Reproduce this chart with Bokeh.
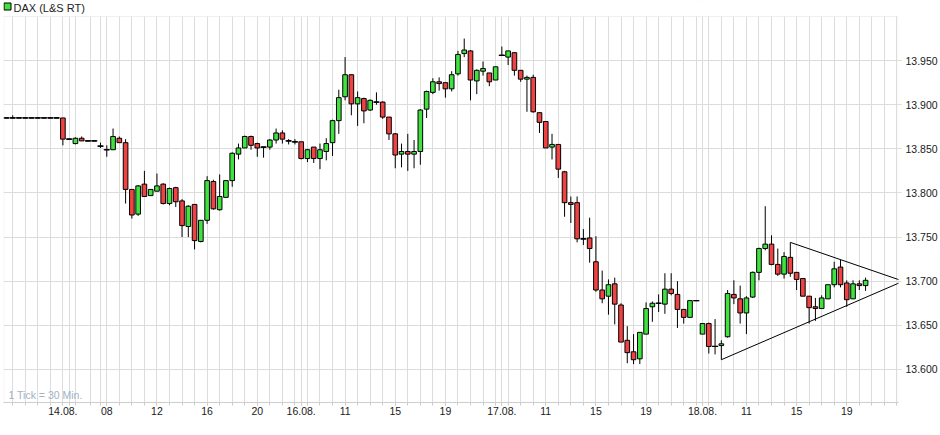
from bokeh.plotting import figure
from bokeh.models import FixedTicker, Label, BoxAnnotation, ColumnDataSource, Range1d
from bokeh.embed import file_html
from bokeh.resources import INLINE

# ---------------- data (30-minute candles, slot index on a trading-time axis) ----------------
slots = list(range(-9, 129))

opens = [13885, 13885, 13885, 13885, 13885, 13885, 13885, 13885, 13885,
         13885, 13861, 13856, 13862, 13859, 13859, 13853, 13849, 13849, 13862,
         13857, 13804, 13776, 13810, 13797, 13802, 13810, 13788, 13806, 13791,
         13762, 13787, 13745, 13769, 13813, 13781, 13795, 13814, 13844, 13851,
         13864, 13856, 13852, 13852, 13860, 13868, 13859, 13858, 13858, 13839,
         13852, 13839, 13847, 13857, 13882, 13909, 13934, 13901, 13907, 13894,
         13903, 13903, 13886, 13867, 13844, 13847, 13844, 13847, 13895, 13914,
         13926, 13925, 13918, 13935, 13958, 13961, 13927, 13938, 13936, 13928,
         13956, 13954, 13959, 13939, 13929, 13931, 13891, 13881, 13852, 13855,
         13824, 13789, 13789, 13748, 13749, 13722, 13690, 13683, 13697, 13673,
         13633, 13620, 13612, 13640, 13671, 13675, 13674, 13691, 13685, 13668,
         13659, 13678, 13640, 13652, 13626, 13627, 13637, 13685, 13680, 13664,
         13682, 13710, 13737, 13742, 13719, 13708, 13727, 13710, 13703, 13683,
         13671, 13669, 13680, 13696, 13716, 13698, 13680, 13697, 13695]

highs = [13885, 13888, 13885, 13885, 13885, 13885, 13885, 13885, 13885,
         13885, 13861, 13863, 13864, 13859, 13859, 13857, 13854, 13873, 13864,
         13861, 13804, 13809, 13825, 13804, 13822, 13811, 13806, 13807, 13793,
         13786, 13787, 13769, 13819, 13815, 13821, 13814, 13846, 13856, 13865,
         13865, 13857, 13852, 13861, 13873, 13871, 13861, 13861, 13858, 13850,
         13852, 13856, 13862, 13883, 13917, 13954, 13934, 13915, 13908, 13906,
         13914, 13904, 13886, 13868, 13856, 13867, 13860, 13895, 13916, 13930,
         13931, 13925, 13938, 13961, 13975, 13962, 13940, 13949, 13936, 13943,
         13966, 13961, 13959, 13939, 13933, 13934, 13891, 13881, 13867, 13855,
         13825, 13796, 13796, 13759, 13772, 13751, 13712, 13702, 13704, 13675,
         13649, 13640, 13642, 13676, 13677, 13685, 13709, 13709, 13700, 13668,
         13678, 13678, 13652, 13653, 13657, 13633, 13690, 13701, 13695, 13683,
         13711, 13738, 13785, 13752, 13737, 13733, 13744, 13710, 13703, 13683,
         13681, 13684, 13696, 13722, 13724, 13701, 13701, 13701, 13704]

lows = [13885, 13885, 13885, 13885, 13885, 13885, 13885, 13885, 13885,
        13854, 13861, 13855, 13859, 13859, 13859, 13851, 13841, 13849, 13857,
        13788, 13771, 13774, 13796, 13797, 13802, 13787, 13786, 13784, 13750,
        13750, 13736, 13744, 13765, 13781, 13780, 13795, 13807, 13838, 13851,
        13849, 13841, 13840, 13849, 13856, 13856, 13855, 13855, 13838, 13835,
        13834, 13827, 13837, 13842, 13867, 13905, 13888, 13876, 13879, 13893,
        13900, 13884, 13860, 13828, 13829, 13825, 13828, 13832, 13885, 13912,
        13916, 13908, 13915, 13933, 13954, 13905, 13912, 13933, 13921, 13928,
        13956, 13945, 13933, 13926, 13892, 13891, 13868, 13851, 13838, 13817,
        13773, 13766, 13744, 13741, 13721, 13688, 13675, 13662, 13651, 13631,
        13607, 13606, 13606, 13640, 13654, 13665, 13663, 13684, 13647, 13652,
        13659, 13678, 13640, 13618, 13617, 13611, 13636, 13674, 13652, 13640,
        13681, 13701, 13735, 13718, 13706, 13703, 13705, 13690, 13683, 13652,
        13655, 13669, 13680, 13693, 13693, 13671, 13680, 13690, 13689]

closes = [13885, 13885, 13885, 13885, 13885, 13885, 13885, 13885, 13885,
          13861, 13861, 13862, 13859, 13859, 13859, 13853, 13849, 13864, 13857,
          13804, 13775, 13808, 13796, 13804, 13808, 13788, 13805, 13790, 13763,
          13785, 13746, 13769, 13814, 13782, 13796, 13814, 13845, 13851, 13864,
          13854, 13851, 13852, 13860, 13868, 13861, 13859, 13858, 13839, 13849,
          13839, 13849, 13856, 13882, 13908, 13934, 13901, 13908, 13893, 13905,
          13903, 13886, 13867, 13843, 13847, 13844, 13847, 13894, 13915, 13926,
          13924, 13918, 13934, 13957, 13962, 13928, 13939, 13941, 13926, 13943,
          13956, 13961, 13939, 13929, 13931, 13892, 13880, 13851, 13855, 13827,
          13789, 13787, 13748, 13748, 13737, 13690, 13680, 13696, 13674, 13631,
          13619, 13611, 13642, 13669, 13675, 13675, 13691, 13686, 13668, 13659,
          13678, 13678, 13652, 13626, 13626, 13629, 13686, 13681, 13664, 13681,
          13710, 13737, 13742, 13719, 13708, 13728, 13709, 13702, 13683, 13670,
          13669, 13681, 13696, 13714, 13696, 13679, 13697, 13695, 13701]

# triangle drawn on the chart (slot, price)
tri_upper_x = [116, 134]
tri_upper_y = [13744, 13700]
tri_lower_x = [105, 134]
tri_lower_y = [13611, 13700]

# axis ticks
x_tick_slots = [0, 7, 15, 23, 31, 38, 45, 53, 61, 70, 77, 85, 93, 102, 109, 117, 125]
x_tick_labels = ["14.08.", "08", "12", "16", "20", "16.08.", "11", "15", "19",
                 "17.08.", "11", "15", "19", "18.08.", "11", "15", "19"]
day_start_slots = [6, 38, 70, 102]
pre_grid_slots = [-8, -6, -4, -2, 0, 1, 2, 4.4]
y_ticks = [13600, 13650, 13700, 13750, 13800, 13850, 13900, 13950]
y_tick_labels = ["13.600", "13.650", "13.700", "13.750", "13.800", "13.850", "13.900", "13.950"]
series_name = "DAX (L&S RT)"
price_top = 14000       # upper edge of the price area
price_bottom = 13562.5  # lower edge of the price area

# ---------------- build ----------------
GREEN = "#3fe23f"
RED = "#ef4242"
GRID = "#dcdcdc"
FONT = "Liberation Sans"

FRAME_W = 895
FRAME_H = 402           # frame spans the header strip too; price area is the lower 386 px
PRICE_H = 386
y_top_ext = price_bottom + (price_top - price_bottom) * FRAME_H / PRICE_H

grid_slots = list(pre_grid_slots)
for d in day_start_slots:
    grid_slots.append(d)
    grid_slots.extend(range(d + 1, d + 32, 2))

top = [max(o, c) for o, c in zip(opens, closes)]
bottom = [min(o, c) for o, c in zip(opens, closes)]
colors = [GREEN if c >= o else RED for o, c in zip(opens, closes)]
src = ColumnDataSource(dict(x=slots, o=opens, h=highs, l=lows, c=closes,
                            top=top, bottom=bottom, color=colors))

W = 0.74
DW = 0.98
doji_x = [x for x, o, c in zip(slots, opens, closes) if o == c]
doji_y = [o for o, c in zip(opens, closes) if o == c]

p = figure(frame_width=FRAME_W, frame_height=FRAME_H,
           x_range=Range1d(-9.47, 133.25), y_range=Range1d(price_bottom, y_top_ext),
           output_backend="svg", toolbar_location=None, y_axis_location="right",
           min_border_left=3, min_border_top=0, min_border_right=42, min_border_bottom=33,
           background_fill_color="white", border_fill_color="white",
           outline_line_color=None)

p.segment(x0="x", y0="l", x1="x", y1="h", source=src, line_color="black", line_width=1)
p.vbar(x="x", width=W, top="top", bottom="bottom", source=src,
       fill_color="color", line_color="black", line_width=1)
p.segment(x0=[x - DW / 2 for x in doji_x], y0=doji_y, x1=[x + DW / 2 for x in doji_x], y1=doji_y,
          line_color="black", line_width=1.2)

p.line(tri_upper_x, tri_upper_y, line_color="black", line_width=1)
p.line(tri_lower_x, tri_lower_y, line_color="black", line_width=1)

# x axis
xa = p.xaxis[0]
xa.ticker = FixedTicker(ticks=x_tick_slots, minor_ticks=grid_slots)
xa.major_label_overrides = {s: t for s, t in zip(x_tick_slots, x_tick_labels)}
xa.axis_line_color = "#cccccc"
xa.major_tick_line_color = "#cccccc"
xa.minor_tick_line_color = "#cccccc"
xa.major_tick_in = 0
xa.major_tick_out = 3
xa.minor_tick_in = 0
xa.minor_tick_out = 3
xa.major_label_standoff = 1
xa.major_label_text_font = FONT
xa.major_label_text_font_size = "10.5px"
xa.major_label_text_color = "#1a1a1a"

# y axis
ya = p.yaxis[0]
ya.ticker = FixedTicker(ticks=y_ticks)
ya.major_label_overrides = {v: t for v, t in zip(y_ticks, y_tick_labels)}
ya.axis_line_color = None
ya.major_tick_line_color = GRID
ya.major_tick_in = 0
ya.major_tick_out = 3
ya.minor_tick_line_color = None
ya.major_label_standoff = 4
ya.major_label_text_font = FONT
ya.major_label_text_font_size = "10.5px"
ya.major_label_text_color = "#1a1a1a"

p.xgrid.grid_line_color = GRID
p.xgrid.minor_grid_line_color = GRID
p.ygrid.grid_line_color = GRID

# border of the price area (left and right edges)
p.add_layout(BoxAnnotation(left=0.5, right=FRAME_W - 0.5, bottom=price_bottom, top=price_top,
                           left_units="screen", right_units="screen",
                           fill_alpha=0, line_color=GRID, line_width=1))
# header strip: white cover whose lower edge is the top border of the price area
p.add_layout(BoxAnnotation(bottom=price_top, top=2000, left=-50, right=3000,
                           top_units="screen", left_units="screen", right_units="screen",
                           fill_color="white", fill_alpha=1, line_color=GRID, line_width=1))
# legend swatch and name
p.add_layout(BoxAnnotation(left=0.5, right=7.5, bottom=392.5, top=399.5,
                           left_units="screen", right_units="screen",
                           bottom_units="screen", top_units="screen",
                           fill_color=GREEN, fill_alpha=1, line_color="black", line_width=1,
                           line_alpha=1))
p.add_layout(Label(x=10, y=395, x_units="screen", y_units="screen", text=series_name,
                   text_font=FONT, text_font_size="11px", text_color="#222222",
                   text_baseline="middle"))
# footnote
p.add_layout(Label(x=5, y=8, x_units="screen", y_units="screen", text="1 Tick = 30 Min.",
                   text_font=FONT, text_font_size="10.5px", text_color="#a3b1c4",
                   text_baseline="middle"))

open("out.html", "w").write(file_html(p, INLINE))
